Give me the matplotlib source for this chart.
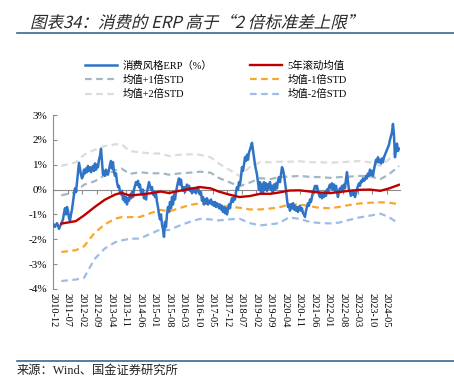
#!/usr/bin/env python3
"""Consumer-style ERP vs its 5-year rolling mean and +/-1, +/-2 std bands."""

import numpy as np
import matplotlib
matplotlib.use("Agg")
import matplotlib.pyplot as plt
from matplotlib.font_manager import FontProperties
from matplotlib.patches import PathPatch
from matplotlib.textpath import TextPath
from matplotlib.transforms import Affine2D

plt.rcParams["axes.unicode_minus"] = False

SERIF_CJK = ["Liberation Serif", "Noto Sans CJK SC"]

TITLE = "图表34：消费的 ERP 高于“2 倍标准差上限”"
SOURCE = "来源：Wind、国金证券研究所"

TICK_LABELS = [
    "2010-12", "2011-07", "2012-02", "2012-09", "2013-04", "2013-11",
    "2014-06", "2015-01", "2015-08", "2016-03", "2016-10", "2017-05",
    "2017-12", "2018-07", "2019-02", "2019-09", "2020-04", "2020-11",
    "2021-06", "2022-01", "2022-08", "2023-03", "2023-10", "2024-05",
]
LAST_MONTH = 167  # 2024-11, months after 2010-12

# consumer ERP (%), sampled roughly every half month from 2010-12
erp = [
    -1.37, -1.45, -1.5, -1.42, -1.35, -1.45, -1.58, -1.48, -1.4, -1.3,
    -1.2, -0.95, -0.75, -1.0, -0.7, -0.85, -1.15, -1.25, -1.0, -0.8,
    -0.5, -0.2, 0.05, -0.1, 0.3, 0.7, 1.08, 0.85, 0.6, 0.45,
    0.55, 0.8, 0.65, 0.85, 0.7, 0.95, 0.75, 0.9, 0.7, 0.85,
    0.95, 0.75, 1.05, 0.8, 1.0, 0.9, 1.2, 1.35, 1.64, 1.1,
    0.6, 0.75, 0.55, 0.8, 0.65, 0.6, 0.8, 1.0, 1.15, 0.85,
    1.1, 0.7, 0.55, 0.65, 0.3, 0.1, 0.15, -0.1, -0.2, -0.05,
    -0.4, -0.25, -0.5, -0.3, -0.6, -0.35, -0.45, -0.2, -0.35, -0.1,
    -0.3, 0.0, 0.15, 0.3, 0.2, 0.35, 0.1, 0.2, -0.1, -0.2,
    0.0, -0.35, -0.2, -0.4, -0.1, 0.1, 0.3, 0.15, 0.0, 0.1,
    -0.2, -0.1, -0.3, -0.15, -0.5, -0.7, -1.0, -1.2, -1.0, -1.4,
    -1.6, -1.9, -1.3, -1.5, -1.0, -0.7, -0.9, -0.5, -0.75, -0.3,
    -0.6, -0.2, -0.4, -0.1, 0.1, 0.3, 0.45, 0.2, 0.4, 0.1,
    -0.05, 0.1, -0.1, 0.05, 0.2, 0.0, 0.15, -0.05, 0.05, -0.15,
    0.0, -0.1, 0.05, -0.15, 0.0, 0.1, -0.1, -0.2, -0.1, -0.45,
    -0.3, -0.6, -0.4, -0.55, -0.35, -0.6, -0.45, -0.55, -0.4, -0.6,
    -0.5, -0.65, -0.5, -0.7, -0.55, -0.6, -0.75, -0.6, -0.8, -0.65,
    -0.9, -0.7, -0.95, -0.75, -1.0, -0.8, -0.6, -0.75, -0.5, -0.35,
    -0.5, -0.3, -0.4, -0.1, 0.1, 0.0, 0.3, 0.2, 0.5, 0.9,
    0.75, 1.0, 1.3, 1.15, 1.4, 1.2, 1.5, 1.6, 1.75, 1.88,
    1.6, 1.3, 1.0, 0.8, 0.6, 0.3, 0.0, 0.3, -0.1, 0.2,
    -0.15, 0.3, 0.0, 0.25, -0.05, 0.2, 0.05, 0.3, 0.0, 0.15,
    -0.1, 0.2, 0.0, 0.25, 0.05, 0.35, 0.5, 0.3, 0.6, 0.9,
    0.8, 0.6, 0.3, 0.0, -0.4, -0.7, -0.6, -0.85, -0.6, -0.75,
    -0.55, -0.8, -0.65, -0.85, -0.7, -0.9, -0.75, -0.65, -0.85, -0.75,
    -0.95, -1.0, -1.1, -0.85, -0.7, -0.55, -0.65, -0.4, -0.5, -0.3,
    -0.1, 0.0, 0.15, 0.05, 0.15, -0.05, -0.2, -0.3, -0.15, -0.35,
    -0.2, -0.3, -0.1, -0.25, 0.0, -0.1, 0.1, 0.2, 0.05, 0.25,
    0.0, 0.2, -0.05, 0.15, -0.1, -0.3, -0.05, 0.05, -0.1, 0.15,
    0.0, 0.2, 0.05, 0.4, 0.7, 0.3, 0.0, -0.1, -0.25, -0.05,
    -0.2, -0.1, -0.3, -0.15, 0.0, 0.15, 0.25, 0.15, 0.35, 0.3,
    0.45, 0.35, 0.4, 0.55, 0.45, 0.65, 0.55, 0.8, 0.6, 0.75,
    0.55, 0.8, 1.0, 1.2, 1.1, 1.3, 1.1, 1.2, 1.05, 1.25,
    1.1, 1.3, 1.4, 1.5, 1.6, 1.7, 1.8, 2.0, 2.15, 2.3,
    2.64, 2.2, 1.3, 1.6, 1.85, 1.55, 1.65,
]

# 5-year rolling statistics, months after 2010-12
band_months = [
    4, 11, 15, 20, 25, 30, 33, 37, 42, 47, 52, 56, 61, 66, 71, 76, 80, 85,
    90, 95, 100, 105, 109, 114, 119, 124, 129, 134, 138, 143, 148, 153, 158,
    162, 167,
]
rolling_mean = [
    -1.37, -1.27, -1.04, -0.71, -0.41, -0.2, -0.13, -0.24, -0.2, -0.15,
    -0.08, -0.14, -0.05, 0.03, 0.1, 0.05, -0.08, -0.2, -0.3, -0.26,
    -0.17, -0.17, -0.12, -0.04, -0.03, -0.08, -0.12, -0.14, -0.1, -0.05,
    -0.01, 0.0, -0.05, 0.04, 0.19,
]
plus_1std = [
    -0.23, -0.1, 0.2, 0.33, 0.58, 0.77, 0.85, 0.63, 0.7, 0.65,
    0.66, 0.6, 0.65, 0.68, 0.72, 0.68, 0.47, 0.3, 0.13, 0.28,
    0.46, 0.42, 0.5, 0.52, 0.55, 0.51, 0.5, 0.47, 0.5, 0.52,
    0.55, 0.53, 0.42, 0.6, 0.95,
]
minus_1std = [
    -2.51, -2.44, -2.28, -1.75, -1.4, -1.17, -1.11, -1.11, -1.1, -0.95,
    -0.82, -0.88, -0.75, -0.62, -0.55, -0.58, -0.62, -0.7, -0.73, -0.8,
    -0.8, -0.76, -0.72, -0.6, -0.6, -0.67, -0.74, -0.75, -0.7, -0.62,
    -0.56, -0.53, -0.51, -0.53, -0.58,
]
plus_2std = [
    0.95, 1.1, 1.4, 1.6, 1.75, 1.82, 1.83, 1.55, 1.5, 1.45,
    1.45, 1.35, 1.4, 1.42, 1.4, 1.3, 1.05, 0.8, 0.55, 0.9,
    1.1, 1.1, 1.12, 1.12, 1.14, 1.1, 1.1, 1.08, 1.1, 1.12,
    1.15, 1.1, 0.95, 1.2, 1.7,
]
minus_2std = [
    -3.68, -3.62, -3.55, -2.8, -2.37, -2.12, -2.05, -1.98, -1.97, -1.78,
    -1.6, -1.63, -1.45, -1.3, -1.18, -1.2, -1.24, -1.2, -1.17, -1.35,
    -1.44, -1.4, -1.35, -1.12, -1.18, -1.3, -1.35, -1.36, -1.33, -1.22,
    -1.12, -1.05, -0.97, -1.1, -1.37,
]

BLUE = "#2F73C6"
RED = "#C00000"
GREY_BLUE = "#A3B7C3"
ORANGE = "#F9A62D"
LIGHT_GREY = "#DCDCDC"
LIGHT_BLUE = "#9DBCE8"
AXIS_GREY = "#8C8C8C"


def main() -> None:
    fig = plt.figure(figsize=(4.54, 3.8), dpi=100)
    ax = fig.add_axes([53 / 454, 1 - 289 / 380, 347 / 454, 174 / 380])

    erp_months = np.linspace(0, LAST_MONTH, len(erp))
    dash = (3, 2)

    ax.plot(band_months, plus_2std, color=LIGHT_GREY, lw=1.6, dashes=dash,
            label="均值+2倍STD", zorder=2)
    ax.plot(band_months, plus_1std, color=GREY_BLUE, lw=1.6, dashes=dash,
            label="均值+1倍STD", zorder=2)
    ax.plot(band_months, minus_1std, color=ORANGE, lw=1.6, dashes=dash,
            label="均值-1倍STD", zorder=2)
    ax.plot(band_months, minus_2std, color=LIGHT_BLUE, lw=1.6, dashes=dash,
            label="均值-2倍STD", zorder=2)
    ax.plot(erp_months, erp, color=BLUE, lw=1.8, label="消费风格ERP（%）", zorder=3)
    ax.plot(band_months, rolling_mean, color=RED, lw=1.7, label="5年滚动均值", zorder=4)

    ax.set_ylim(-4, 3)
    ax.set_xlim(0, LAST_MONTH + 0.5)
    ax.set_yticks(range(-4, 4))
    ax.set_yticklabels([f"{v}%" for v in range(-4, 4)],
                       family="Liberation Serif", fontsize=8)

    # category axis crosses at zero, labels stay at the bottom
    tick_pos = [7 * i for i in range(len(TICK_LABELS))]
    ax.spines["bottom"].set_position(("data", 0))
    ax.spines["bottom"].set_color(AXIS_GREY)
    ax.spines["bottom"].set_linewidth(0.8)
    ax.set_xticks(tick_pos)
    ax.tick_params(axis="x", direction="out", length=3, color=AXIS_GREY,
                   labelbottom=False)
    sec = ax.secondary_xaxis("bottom")
    sec.set_xticks(tick_pos)
    sec.set_xticklabels(TICK_LABELS, rotation=-90, family="Liberation Serif",
                        fontsize=7.5)
    sec.tick_params(length=0, pad=3)
    sec.spines["bottom"].set_visible(False)

    for side in ("top", "right"):
        ax.spines[side].set_visible(False)
    ax.spines["left"].set_color(AXIS_GREY)
    ax.spines["left"].set_linewidth(0.8)
    ax.tick_params(axis="y", direction="in", length=3, color=AXIS_GREY, pad=4)

    handles, labels = ax.get_legend_handles_labels()
    order = [4, 1, 0, 5, 2, 3]
    fig.legend([handles[i] for i in order], [labels[i] for i in order],
               loc="center", bbox_to_anchor=(0.475, 0.79), ncol=2, frameon=False,
               prop={"family": SERIF_CJK, "size": 7.5}, handlelength=3.1,
               columnspacing=3.6, labelspacing=0.4, handletextpad=0.5)

    # slanted title, as in the report
    title_path = TextPath((0, 0), TITLE, size=16.5,
                          prop=FontProperties(family="Noto Sans CJK SC"))
    fig.add_artist(PathPatch(
        title_path, transform=Affine2D().skew_deg(14, 0).translate(30, 380 - 28),
        facecolor="#2a2a2a", edgecolor="none"))

    fig.add_artist(plt.Line2D([17 / 454, 1], [1 - 33 / 380] * 2,
                              color="#3A6A8E", lw=1.2))
    fig.add_artist(plt.Line2D([17 / 454, 1], [1 - 361 / 380] * 2,
                              color="#3A6A8E", lw=1.2))
    fig.text(17 / 454, 1 - 371 / 380, SOURCE, family=SERIF_CJK, fontsize=8.8,
             va="center", ha="left", color="#222222")

    fig.savefig("out.png", dpi=100)


if __name__ == "__main__":
    main()
